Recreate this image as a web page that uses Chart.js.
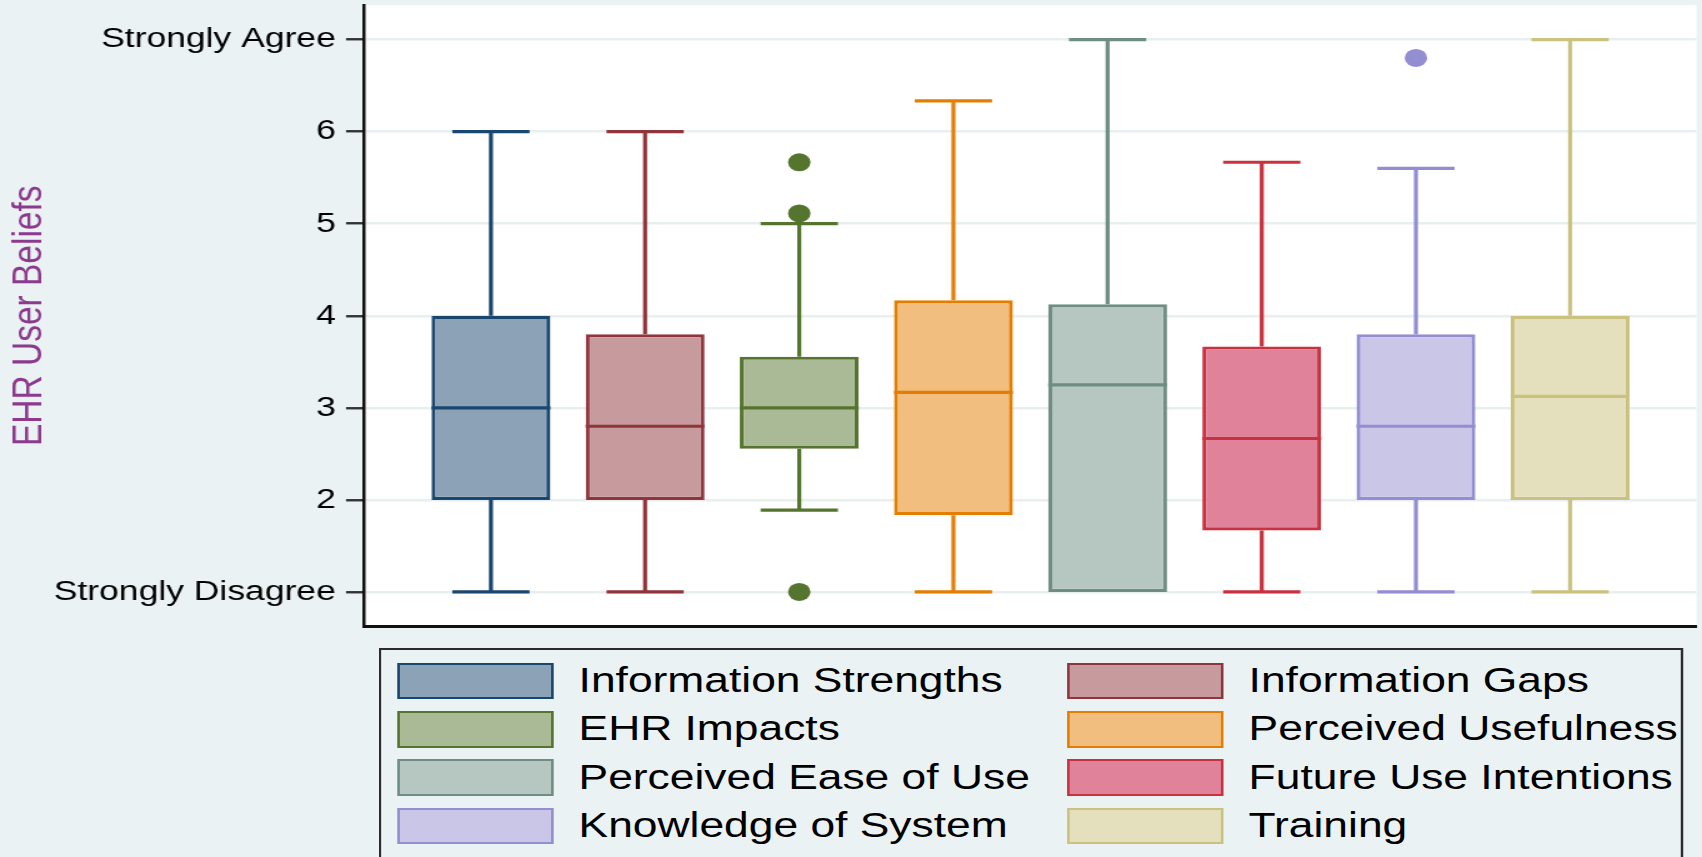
<!DOCTYPE html>
<html>
<head>
<meta charset="utf-8">
<title>EHR User Beliefs</title>
<script src="https://cdn.jsdelivr.net/npm/chart.js@4/dist/chart.umd.min.js"></script>
<style>
  html, body { margin: 0; padding: 0; background: #eaf2f3; overflow: hidden; }
  /* The figure is laid out on a 1362px-wide stage and widened to 1702px. */
  #stage {
    position: relative; width: 1362px; height: 857px; overflow: hidden;
    transform: scaleX(1.24963); transform-origin: 0 0;
    font-family: "Liberation Sans", Arial, Helvetica, sans-serif;
  }
  #chart { position: absolute; left: 0; top: 0; }
  #legend {
    position: absolute; left: 303px; top: 648px; width: 1044px; height: 230px;
    box-sizing: border-box; border: 2.4px solid #2b2b2b; background: #eaf2f3;
  }
  .item { position: absolute; height: 36.6px; display: flex; align-items: center; }
  .swatch { width: 124.8px; height: 36.6px; box-sizing: border-box; border: 2.7px solid; flex: none; }
  .label { margin-left: 20.1px; font-size: 35.5px; line-height: 1; color: #000; white-space: nowrap; }
</style>
</head>
<body>
<div id="stage">
  <canvas id="chart" width="1362" height="857"></canvas>
  <div id="legend"></div>
</div>
<script>
// Survey scales, one box per scale
const categories = [
  'Information Strengths', 'Information Gaps', 'EHR Impacts', 'Perceived Usefulness',
  'Perceived Ease of Use', 'Future Use Intentions', 'Knowledge of System', 'Training'
];
const positions    = [1, 2, 3, 4, 5, 6, 7, 8];
const lowerWhisker = [1, 1, 1.889, 1, 1, 1, 1, 1];
const quartile1    = [2, 2, 2.556, 1.833, 1, 1.667, 2, 2];
const medians      = [3, 2.8, 3, 3.167, 3.25, 2.667, 2.8, 3.125];
const quartile3    = [4, 3.8, 3.556, 4.167, 4.125, 3.667, 3.8, 4];
const upperWhisker = [6, 6, 5, 6.333, 7, 5.667, 5.6, 7];
// outside values: [series index, value]
const outlierSeries = [2, 2, 2, 6];
const outlierValues = [5.667, 5.111, 1, 6.8];

// y axis
const tickValues = [1, 2, 3, 4, 5, 6, 7];
const tickLabels = ['Strongly Disagree', '2', '3', '4', '5', '6', 'Strongly Agree'];

const lineColors = ['#1a476f', '#90353b', '#55752f', '#e37e00', '#6e8e84', '#c8323e', '#938dd2', '#cac27e'];
const fillColors = ['#8ca3b7', '#c79a9d', '#aaba97', '#f1be7f', '#b6c6c1', '#e08299', '#c9c6e8', '#e4e0be'];

const FONT = '"Liberation Sans", Arial, Helvetica, sans-serif';
Chart.defaults.font.family = FONT;

const boxDatasets = categories.map((name, i) => ({
  type: 'bar',
  label: name,
  data: [{ x: positions[i], y: [quartile1[i], quartile3[i]] }],
  backgroundColor: fillColors[i],
  borderColor: lineColors[i],
  borderWidth: 3.2,
  borderSkipped: false,
  grouped: false,
  barPercentage: 0.771,
  categoryPercentage: 1,
  seriesIndex: i
}));

const outlierDataset = {
  type: 'scatter',
  label: 'outside values',
  data: outlierSeries.map((s, k) => ({ x: positions[s], y: outlierValues[k] })),
  pointRadius: 9,
  pointHoverRadius: 9,
  pointBorderWidth: 0,
  pointBackgroundColor: outlierSeries.map(s => lineColors[s])
};

// White plot region behind the grid
const plotRegion = {
  id: 'plotRegion',
  beforeDraw(chart) {
    const { ctx, chartArea: a } = chart;
    ctx.save();
    ctx.fillStyle = '#ffffff';
    ctx.fillRect(a.left, a.top, a.right - a.left, a.bottom - a.top);
    ctx.restore();
  }
};

// Whiskers with caps, and median lines, placed with the chart's scales
const boxWhiskers = {
  id: 'boxWhiskers',
  beforeDatasetsDraw(chart) {
    const ctx = chart.ctx, y = chart.scales.y;
    chart.data.datasets.forEach((ds, di) => {
      if (ds.seriesIndex === undefined) return;
      const i = ds.seriesIndex;
      const bar = chart.getDatasetMeta(di).data[0];
      if (!bar) return;
      const { x, width } = bar.getProps(['x', 'width'], true);
      const cap = width * 0.325;
      ctx.save();
      ctx.strokeStyle = lineColors[i];
      ctx.lineWidth = 3.2;
      ctx.beginPath();
      if (upperWhisker[i] > quartile3[i]) {
        const hi = y.getPixelForValue(upperWhisker[i]);
        ctx.moveTo(x, hi);
        ctx.lineTo(x, y.getPixelForValue(quartile3[i]));
        ctx.moveTo(x - cap, hi);
        ctx.lineTo(x + cap, hi);
      }
      if (lowerWhisker[i] < quartile1[i]) {
        const lo = y.getPixelForValue(lowerWhisker[i]);
        ctx.moveTo(x, lo);
        ctx.lineTo(x, y.getPixelForValue(quartile1[i]));
        ctx.moveTo(x - cap, lo);
        ctx.lineTo(x + cap, lo);
      }
      ctx.stroke();
      ctx.restore();
    });
  },
  afterDatasetsDraw(chart) {
    const ctx = chart.ctx, y = chart.scales.y;
    chart.data.datasets.forEach((ds, di) => {
      if (ds.seriesIndex === undefined) return;
      const i = ds.seriesIndex;
      const bar = chart.getDatasetMeta(di).data[0];
      if (!bar) return;
      const { x, width } = bar.getProps(['x', 'width'], true);
      const py = y.getPixelForValue(medians[i]);
      ctx.save();
      ctx.strokeStyle = lineColors[i];
      ctx.lineWidth = 3.2;
      ctx.beginPath();
      ctx.moveTo(x - width / 2, py);
      ctx.lineTo(x + width / 2, py);
      ctx.stroke();
      ctx.restore();
    });
  }
};

new Chart(document.getElementById('chart'), {
  type: 'bar',
  data: { datasets: [...boxDatasets, outlierDataset] },
  options: {
    responsive: false,
    animation: false,
    devicePixelRatio: 1,
    layout: { autoPadding: false, padding: { top: 5, right: 4.4, bottom: 230.5, left: 0 } },
    plugins: { legend: { display: false }, tooltip: { enabled: false } },
    scales: {
      x: {
        type: 'linear',
        min: 0.18, max: 8.82,
        offset: false,
        afterBuildTicks: s => { s.ticks = positions.map(v => ({ value: v })); },
        ticks: { display: false },
        grid: { display: true, drawOnChartArea: false, drawTicks: false },
        border: { display: true, color: '#111111', width: 3 },
        afterFit: s => { s.height = 0; s.paddingLeft = 0; s.paddingRight = 0; }
      },
      y: {
        type: 'linear',
        min: 0.625, max: 7.375,
        bounds: 'data',
        afterBuildTicks: s => { s.ticks = tickValues.map(v => ({ value: v })); },
        ticks: {
          autoSkip: false,
          padding: 8.2,
          color: '#000000',
          font: { size: 28.4 },
          callback: (v, idx) => tickLabels[idx]
        },
        grid: {
          color: '#e7eff0', lineWidth: 2.5,
          tickColor: '#333333', tickWidth: 2.4, tickLength: 14.8
        },
        border: { display: true, color: '#111111', width: 2.5 },
        title: {
          display: true,
          text: 'EHR User Beliefs',
          color: '#8c3a8e',
          font: { size: 33.5 },
          padding: { top: 3.5, bottom: 0 }
        },
        afterFit: s => { s.width = 291.7; s.paddingTop = 0; s.paddingBottom = 0; }
      }
    }
  },
  plugins: [plotRegion, boxWhiskers]
});

// Legend: two columns, filled row by row
const legend = document.getElementById('legend');
categories.forEach((name, i) => {
  const col = i % 2, row = Math.floor(i / 2);
  const item = document.createElement('div');
  item.className = 'item';
  item.style.left = (col === 0 ? 13.1 : 549.3) + 'px';
  item.style.top = (12.6 + row * 48.33) + 'px';
  const sw = document.createElement('div');
  sw.className = 'swatch';
  sw.style.background = fillColors[i];
  sw.style.borderColor = lineColors[i];
  const lb = document.createElement('span');
  lb.className = 'label';
  lb.textContent = name;
  item.appendChild(sw);
  item.appendChild(lb);
  legend.appendChild(item);
});
</script>
</body>
</html>
